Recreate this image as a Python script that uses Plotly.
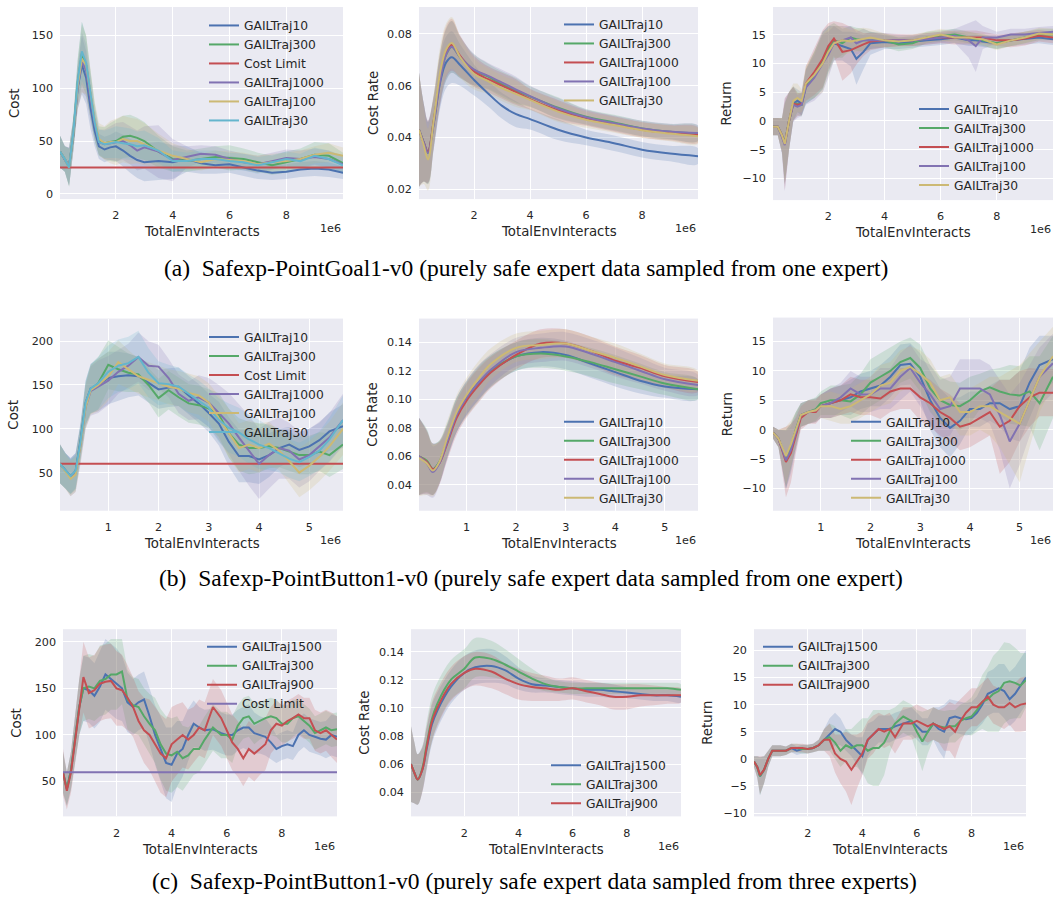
import plotly.graph_objects as go

W, H = 1057, 903

BLUE, GREEN, RED = "#4C72B0", "#55A868", "#C44E52"
PURPLE, YELLOW, CYAN = "#8172B2", "#CCB974", "#64B5CD"
TEXT = "#262626"

# ---------------- (a) Safexp-PointGoal1-v0 ----------------
a1_x = [0.03, 0.2, 0.35, 0.5, 0.65, 0.8, 0.95, 1.1, 1.25, 1.4, 1.6, 1.8, 2.0, 2.25, 2.5,
        2.75, 3.0, 3.5, 4.0, 4.5, 5.0, 5.5, 6.0, 6.5, 7.0, 7.5, 8.0, 8.5, 9.0, 9.5, 10.0]
a1_traj10 = [40, 33, 26, 55, 100, 122, 110, 82, 60, 45, 42, 44, 45, 41, 36,
             32, 30, 31, 30, 33, 29, 27, 28, 25, 22, 20, 21, 23, 24, 23, 20]
a1_traj300 = [40, 33, 25, 57, 105, 133, 122, 95, 68, 50, 48, 49, 50, 54, 55,
              53, 50, 40, 33, 31, 33, 35, 34, 33, 30, 27, 30, 33, 37, 36, 29]
a1_traj1000 = [40, 33, 26, 56, 100, 125, 117, 90, 66, 49, 47, 48, 49, 50, 46,
               41, 44, 40, 32, 35, 38, 37, 33, 30, 28, 31, 34, 33, 35, 33, 28]
a1_traj100 = [40, 33, 25, 56, 102, 128, 122, 95, 70, 52, 48, 49, 49, 52, 50,
              50, 47, 41, 36, 33, 30, 33, 32, 31, 28, 30, 31, 33, 37, 39, 36]
a1_traj30 = [40, 33, 25, 58, 106, 135, 124, 95, 68, 49, 47, 48, 49, 48, 47,
             45, 46, 41, 31, 31, 33, 33, 31, 30, 27, 30, 33, 31, 36, 33, 27]
a1_traj10_sd = [15, 12, 18, 15, 20, 28, 25, 20, 15, 12, 12, 12, 14, 15, 16,
                17, 18, 18, 16, 12, 10, 8, 8, 8, 8, 7, 7, 7, 7, 7, 6]
a1_traj300_sd = [15, 12, 18, 15, 22, 30, 28, 22, 18, 14, 15, 18, 20, 20, 20,
                 19, 18, 15, 12, 10, 10, 10, 12, 10, 9, 9, 10, 10, 12, 12, 10]
a1_traj1000_sd = [15, 12, 18, 15, 20, 28, 25, 20, 15, 12, 14, 16, 18, 18, 18,
                  19, 20, 25, 20, 10, 8, 8, 8, 8, 8, 8, 8, 8, 8, 8, 8]
a1_traj100_sd = [15, 12, 18, 15, 22, 32, 28, 22, 18, 15, 16, 20, 22, 22, 22,
                 21, 20, 16, 12, 10, 8, 8, 8, 8, 8, 8, 8, 8, 8, 9, 8]
a1_traj30_sd = [15, 12, 18, 15, 20, 28, 25, 20, 15, 12, 13, 14, 15, 15, 15,
                14, 14, 12, 10, 8, 8, 8, 8, 8, 8, 7, 7, 7, 8, 8, 8]
a1_cost_limit = 25

a2_x = [0.03, 0.2, 0.35, 0.55, 0.8, 1.0, 1.2, 1.5, 2.0, 2.5, 3.0, 3.5, 4.0, 5.0, 6.0, 7.0, 8.0, 9.0, 10.0]
a2_traj10 = [0.043, 0.038, 0.0345, 0.045, 0.062, 0.069, 0.071, 0.068, 0.0622, 0.057,
             0.0522, 0.049, 0.0471, 0.043, 0.040, 0.0378, 0.0353, 0.0338, 0.0328]
a2_traj300 = [0.043, 0.038, 0.034, 0.046, 0.064, 0.072, 0.075, 0.071, 0.066, 0.0635,
              0.0605, 0.058, 0.0558, 0.0515, 0.048, 0.0458, 0.0435, 0.0422, 0.0415]
a2_traj1000 = [0.043, 0.038, 0.0345, 0.046, 0.064, 0.073, 0.0758, 0.0715, 0.0655, 0.0625,
               0.060, 0.0575, 0.0548, 0.0505, 0.0475, 0.0452, 0.043, 0.0418, 0.041]
a2_traj100 = [0.043, 0.038, 0.034, 0.045, 0.063, 0.072, 0.075, 0.071, 0.0662, 0.0638,
              0.0612, 0.0585, 0.056, 0.0512, 0.0478, 0.0455, 0.0435, 0.0423, 0.0417]
a2_traj30 = [0.043, 0.037, 0.0315, 0.046, 0.066, 0.074, 0.0765, 0.071, 0.0645, 0.0618,
             0.059, 0.0568, 0.0545, 0.050, 0.0468, 0.0448, 0.0428, 0.0415, 0.0405]
a2_sd = [0.022, 0.015, 0.012, 0.010, 0.010, 0.010, 0.010, 0.008, 0.006, 0.005,
         0.005, 0.005, 0.004, 0.004, 0.003, 0.003, 0.003, 0.003, 0.003]

a3_x = [0.03, 0.2, 0.35, 0.45, 0.6, 0.75, 0.9, 1.05, 1.2, 1.5, 1.8, 2.0, 2.2, 2.5, 2.8, 3.0,
        3.25, 3.5, 4.0, 4.5, 5.0, 5.5, 6.0, 6.5, 7.0, 7.25, 7.5, 8.0, 8.5, 9.0, 9.5, 10.0]
a3_traj10 = [-1, -1, -2.5, -4, 0, 3, 3.5, 3, 6, 8, 10.5, 12.5, 13.5, 13, 12.5, 10.8,
             12, 13.5, 13.7, 13.5, 13.8, 14, 14.2, 14.5, 14, 14, 13.8, 13.5, 14, 14.3, 14.5, 14.2]
a3_traj300 = [-1, -1, -2.5, -3.8, 0, 3, 3, 2.8, 6, 8, 10.5, 12.5, 14, 13.5, 14.5, 14.2,
              14, 14, 14, 13.3, 13.5, 14.5, 14.8, 15, 14.5, 14.2, 14, 13.5, 14, 14.5, 15, 15]
a3_traj1000 = [-1, -1, -2.5, -4, 0, 3, 2.8, 3, 6.5, 8.5, 10.8, 13, 14.3, 12, 12.3, 12.8,
               13.3, 13.8, 14, 14, 14, 14.3, 14.5, 14.5, 14.5, 14.5, 14.5, 14, 14, 14.3, 14.8, 14.5]
a3_traj100 = [-1, -1, -2.8, -4.2, 0, 2.8, 2.5, 2.8, 5.8, 7.5, 10, 11.5, 13.5, 14, 14.5, 13.5,
              14, 14, 14, 14, 14, 14.2, 14.5, 14.8, 14, 13, 14.5, 14.5, 15, 15, 15.3, 15.5]
a3_traj30 = [-1, -1, -2.5, -4, 0, 3.5, 4, 3.5, 6.5, 8, 10, 12, 13.5, 14, 13.8, 14,
             14.2, 14.5, 14, 13.8, 14, 14.5, 15, 14.5, 14.5, 14.3, 14.2, 13.3, 14, 14.5, 15.2, 15]
a3_traj10_sd = [1.5, 1.5, 3, 7, 5, 3, 2, 2, 3, 4, 5, 4, 3, 2.5, 3, 4.5,
                3, 2, 1.2, 1, 1, 1, 1, 1, 1, 1, 1, 1, 1, 1, 1, 1]
a3_traj300_sd = [1.5, 1.5, 3, 7, 5, 3, 2, 2, 3, 4, 5, 4, 3, 2.5, 2, 2,
                 2, 1.5, 1.2, 1.2, 1, 1, 1, 1, 1, 1, 1, 1, 1, 1, 1, 1]
a3_traj1000_sd = [1.5, 1.5, 3, 8, 5, 3, 2, 2, 3, 4, 5, 4, 3, 5, 4, 3,
                  2, 1.5, 1.2, 1, 1, 1, 1, 1.2, 1.2, 1.2, 1, 1, 1.2, 1.2, 1, 1]
a3_traj100_sd = [1.5, 1.5, 3, 8, 5, 3, 2, 2, 3, 4, 5, 4, 3, 2.5, 2, 2,
                 2, 1.5, 1.2, 1, 1, 1, 1, 1.2, 3, 4.5, 2, 1, 1, 1, 1, 1]
a3_traj30_sd = [1.5, 1.5, 3, 7, 5, 3, 2.5, 2, 3, 4, 5, 4, 3, 2.5, 2, 2,
                2, 1.5, 1.2, 1, 1, 1, 1, 1, 1, 1, 1, 1, 1, 1, 1, 1]

# ---------------- (b) Safexp-PointButton1-v0, one expert ----------------
b1_x = [0.04, 0.15, 0.25, 0.35, 0.45, 0.55, 0.65, 0.8, 1.0, 1.2, 1.4, 1.6, 1.8, 2.0, 2.2, 2.4,
        2.6, 2.8, 3.0, 3.2, 3.4, 3.6, 3.8, 4.0, 4.2, 4.4, 4.6, 4.8, 5.0, 5.2, 5.4, 5.67]
b1_traj10 = [60, 52, 46, 52, 88, 130, 146, 150, 158, 160, 161, 160, 152, 145, 147, 148,
             138, 129, 118, 106, 85, 69, 69, 65, 70, 78, 82, 76, 80, 87, 97, 103]
b1_traj300 = [60, 52, 45, 50, 85, 128, 145, 152, 173, 168, 164, 162, 150, 135, 144, 136,
              129, 127, 123, 116, 95, 82, 78, 78, 80, 78, 74, 70, 70, 74, 70, 82]
b1_traj1000 = [60, 52, 45, 50, 82, 125, 143, 148, 155, 165, 172, 182, 172, 171, 158, 140,
               132, 136, 130, 118, 106, 90, 75, 60, 70, 78, 75, 65, 70, 80, 90, 110]
b1_traj100 = [60, 51, 43, 48, 82, 125, 144, 150, 160, 176, 168, 160, 156, 152, 148, 146,
              141, 138, 130, 112, 95, 78, 82, 78, 83, 75, 63, 50, 58, 68, 80, 100]
b1_traj30 = [60, 52, 46, 52, 86, 130, 146, 152, 165, 172, 175, 182, 164, 152, 151, 148,
             140, 133, 124, 110, 101, 96, 88, 82, 78, 72, 66, 62, 68, 75, 88, 110]
b1_traj10_sd = [22, 20, 20, 20, 20, 25, 28, 30, 30, 28, 25, 22, 22, 22, 22, 22,
                22, 22, 22, 25, 28, 30, 30, 28, 25, 22, 20, 20, 20, 20, 22, 25]
b1_traj300_sd = [22, 20, 20, 20, 20, 25, 28, 30, 28, 25, 22, 20, 20, 22, 22, 22,
                 22, 22, 22, 25, 28, 30, 30, 28, 25, 22, 22, 22, 22, 22, 25, 28]
b1_traj1000_sd = [22, 20, 22, 22, 22, 25, 28, 30, 28, 25, 25, 28, 28, 25, 22, 22,
                  22, 25, 28, 32, 35, 38, 40, 40, 38, 35, 32, 32, 30, 28, 28, 30]
b1_traj100_sd = [22, 20, 20, 20, 20, 25, 28, 30, 28, 25, 22, 20, 20, 20, 20, 20,
                 22, 22, 22, 25, 28, 28, 28, 28, 25, 22, 25, 28, 28, 28, 28, 30]
b1_traj30_sd = [22, 20, 20, 20, 20, 25, 28, 30, 30, 30, 30, 30, 28, 25, 22, 22,
                22, 22, 22, 25, 28, 28, 28, 28, 25, 22, 22, 22, 22, 22, 25, 28]
b1_cost_limit = 60

b2_x = [0.04, 0.2, 0.32, 0.45, 0.6, 0.8, 1.0, 1.25, 1.5, 2.0, 2.5, 3.0, 3.5, 4.0, 4.5, 5.0, 5.67]
b2_traj10 = [0.060, 0.056, 0.051, 0.056, 0.070, 0.089, 0.101, 0.112, 0.120, 0.130,
             0.133, 0.131, 0.125, 0.119, 0.113, 0.109, 0.107]
b2_traj300 = [0.060, 0.057, 0.051, 0.056, 0.070, 0.089, 0.100, 0.111, 0.120, 0.130,
              0.132, 0.130, 0.126, 0.121, 0.116, 0.111, 0.107]
b2_traj1000 = [0.060, 0.056, 0.051, 0.055, 0.068, 0.087, 0.099, 0.110, 0.119, 0.131,
               0.139, 0.139, 0.134, 0.127, 0.122, 0.116, 0.112]
b2_traj100 = [0.060, 0.055, 0.049, 0.055, 0.069, 0.089, 0.101, 0.112, 0.121, 0.133,
              0.136, 0.137, 0.132, 0.126, 0.120, 0.114, 0.110]
b2_traj30 = [0.059, 0.055, 0.050, 0.056, 0.072, 0.091, 0.103, 0.115, 0.125, 0.136,
             0.138, 0.139, 0.134, 0.129, 0.123, 0.117, 0.113]
b2_sd = [0.027, 0.022, 0.018, 0.015, 0.012, 0.012, 0.012, 0.012, 0.011, 0.010,
         0.010, 0.010, 0.010, 0.010, 0.009, 0.008, 0.007]

b3_x = [0.04, 0.15, 0.3, 0.4, 0.5, 0.6, 0.75, 0.9, 1.0, 1.2, 1.4, 1.6, 1.8, 2.0, 2.2, 2.4,
        2.6, 2.8, 3.0, 3.2, 3.4, 3.6, 3.8, 4.0, 4.2, 4.4, 4.6, 4.8, 5.0, 5.2, 5.4, 5.67]
b3_traj10 = [-0.5, -1.5, -5, -3, 0, 2.5, 3, 3.3, 4, 4.5, 5, 5.5, 6.5, 7, 7.5, 9,
             11, 11.2, 9, 5, 2, 0.3, 1.5, 3.5, 3.5, 4.5, 4.5, 3.5, 4, 8, 11, 12]
b3_traj300 = [-0.5, -1.5, -5, -3, 0, 2.5, 3, 3.5, 4.5, 5, 5, 4.8, 6, 8, 9, 10,
              11.5, 12.2, 10.5, 7, 5, 4.2, 4, 5, 6.5, 7.2, 6.5, 6, 5.8, 6.5, 4.5, 9]
b3_traj1000 = [-0.5, -1.5, -5.5, -4, -1, 2, 3, 3, 4, 4.5, 5, 6, 5.5, 5.5, 5.3, 6.5,
               7, 7, 5.5, 4.5, 3, 2, 0.5, 1, 2, 3, 0.5, 1.5, 4, 5.5, 6.3, 6.3]
b3_traj100 = [-0.5, -1.5, -5.2, -3.5, -0.5, 2.5, 3, 3.3, 4, 4.5, 5.5, 7, 6, 6, 7, 7,
              9, 10.5, 8, 6, 3.5, 4, 7, 7, 7, 6, 2.5, -2, 1, 5, 9, 11.3]
b3_traj30 = [-0.5, -1.5, -4.5, -2.5, 0, 2.5, 3, 3.3, 4, 4, 3.5, 4, 5, 6, 7.5, 8,
             10, 10.7, 9.5, 8, 5, 5.5, 3, 3, 4, 4, 3, 2, 1, 5, 9, 12.5]
b3_traj10_sd = [1, 1.5, 5, 4, 3, 2, 2, 2, 2, 2.5, 2.5, 3, 3, 3, 3.5, 3.5,
                3.5, 3.5, 4, 5, 5, 5, 4, 3, 3, 3, 4, 5, 6, 6, 5, 4]
b3_traj300_sd = [1, 1.5, 5, 4, 3, 2, 2, 2, 2, 2.5, 2.5, 3, 3.5, 4, 4, 4,
                 3.5, 3.5, 4, 4, 4, 4, 4, 4, 3, 3, 4, 5, 5, 6, 8, 7]
b3_traj1000_sd = [1, 1.5, 6, 5, 3, 2, 2, 2, 2, 2.5, 2.5, 3, 3, 3, 3.5, 3.5,
                  3.5, 3.5, 4, 4, 4, 4, 4, 4, 4, 4, 8, 7, 6, 5, 4, 4]
b3_traj100_sd = [1, 1.5, 5, 4, 3, 2, 2, 2, 2, 2.5, 2.5, 3, 3, 3, 3.5, 3.5,
                 4, 4, 4, 5, 5, 5, 5, 5, 5, 5, 6, 8, 7, 6, 5, 5]
b3_traj30_sd = [1, 1.5, 5, 4, 3, 2, 2, 2, 2, 2.5, 2.5, 3, 3, 3, 3.5, 3.5,
                3.5, 3.5, 4, 4, 4, 4, 4, 4, 4, 5, 6, 8, 10, 8, 6, 5]

# ---------------- (c) Safexp-PointButton1-v0, three experts ----------------
c1_x = [0.06, 0.2, 0.35, 0.5, 0.65, 0.8, 1.0, 1.2, 1.4, 1.6, 1.8, 2.0, 2.2, 2.4, 2.6, 2.8,
        3.0, 3.2, 3.4, 3.6, 3.8, 4.0, 4.2, 4.4, 4.6, 4.8, 5.0, 5.2, 5.5, 5.8, 6.0, 6.2, 6.4,
        6.6, 6.8, 7.0, 7.2, 7.4, 7.6, 7.8, 8.0, 8.2, 8.4, 8.6, 8.8, 9.0, 9.2, 9.4, 9.6, 9.8, 10.0]
c1_traj1500 = [60, 42, 62, 95, 130, 150, 148, 142, 152, 165, 160, 155, 150, 135, 130, 135,
               138, 120, 100, 85, 70, 68, 80, 85, 100, 112, 108, 105, 106, 102, 100, 100, 105,
               108, 108, 102, 100, 98, 92, 85, 88, 90, 88, 100, 105, 100, 98, 96, 95, 100, 98]
c1_traj300 = [60, 42, 62, 95, 130, 150, 152, 150, 158, 160, 165, 165, 168, 138, 132, 130,
              120, 112, 105, 90, 80, 78, 82, 75, 78, 85, 85, 95, 108, 100, 100, 95, 110,
              118, 120, 112, 115, 118, 120, 118, 112, 112, 118, 120, 115, 110, 102, 105, 108, 105, 106]
c1_traj900 = [60, 40, 60, 95, 132, 162, 145, 148, 155, 157, 158, 150, 148, 140, 130, 115,
              105, 100, 90, 80, 75, 90, 95, 100, 95, 100, 108, 105, 130, 118, 105, 92, 85,
              75, 85, 80, 85, 90, 105, 112, 110, 115, 118, 122, 118, 118, 105, 102, 105, 100, 95]
c1_traj1500_sd = [22, 18, 20, 25, 30, 35, 35, 35, 38, 38, 38, 38, 35, 32, 30, 30,
                  30, 30, 32, 35, 38, 40, 35, 30, 28, 25, 22, 22, 22, 22, 22, 22, 22,
                  22, 25, 22, 20, 20, 18, 15, 15, 15, 15, 18, 18, 18, 18, 18, 20, 22, 22]
c1_traj300_sd = [22, 18, 20, 25, 30, 35, 35, 35, 38, 38, 38, 38, 35, 32, 30, 30,
                 30, 32, 35, 38, 40, 40, 38, 35, 30, 28, 25, 25, 25, 25, 25, 25, 22,
                 22, 22, 22, 20, 20, 20, 20, 20, 20, 20, 18, 18, 18, 18, 18, 18, 18, 18]
c1_traj900_sd = [25, 20, 22, 28, 32, 38, 38, 38, 40, 40, 40, 40, 38, 35, 32, 32,
                 35, 38, 40, 42, 42, 40, 38, 35, 32, 30, 30, 30, 30, 30, 30, 30, 30,
                 30, 30, 30, 28, 28, 25, 25, 22, 22, 22, 22, 22, 22, 22, 22, 22, 24, 25]
c1_cost_limit = 60

c2_x = [0.03, 0.15, 0.28, 0.45, 0.6, 0.8, 1.0, 1.5, 2.0, 2.4, 3.0, 3.5, 4.0, 4.5, 5.0,
        5.5, 6.0, 6.5, 7.0, 7.5, 8.0, 8.5, 9.0, 9.5, 10.0]
c2_traj1500 = [0.060, 0.054, 0.049, 0.056, 0.070, 0.088, 0.098, 0.115, 0.125, 0.129,
               0.130, 0.127, 0.121, 0.117, 0.116, 0.115, 0.114, 0.113, 0.113, 0.112,
               0.111, 0.110, 0.109, 0.109, 0.108]
c2_traj300 = [0.060, 0.054, 0.049, 0.057, 0.073, 0.092, 0.103, 0.120, 0.128, 0.136,
              0.135, 0.131, 0.126, 0.121, 0.117, 0.115, 0.114, 0.114, 0.114, 0.114,
              0.114, 0.114, 0.114, 0.114, 0.113]
c2_traj900 = [0.060, 0.054, 0.049, 0.056, 0.071, 0.090, 0.100, 0.117, 0.125, 0.128,
              0.126, 0.121, 0.117, 0.115, 0.114, 0.113, 0.114, 0.112, 0.110, 0.108,
              0.108, 0.109, 0.109, 0.109, 0.109]
c2_traj1500_sd = [0.027, 0.022, 0.018, 0.016, 0.015, 0.014, 0.013, 0.012, 0.012, 0.012,
                  0.012, 0.010, 0.008, 0.006, 0.005, 0.005, 0.005, 0.005, 0.005, 0.005,
                  0.004, 0.004, 0.004, 0.004, 0.004]
c2_traj300_sd = [0.027, 0.022, 0.018, 0.016, 0.016, 0.016, 0.015, 0.014, 0.014, 0.014,
                 0.013, 0.011, 0.009, 0.007, 0.005, 0.004, 0.004, 0.004, 0.004, 0.004,
                 0.004, 0.004, 0.004, 0.004, 0.004]
c2_traj900_sd = [0.027, 0.022, 0.018, 0.016, 0.015, 0.014, 0.013, 0.012, 0.012, 0.012,
                 0.012, 0.011, 0.011, 0.010, 0.009, 0.008, 0.008, 0.008, 0.008, 0.009,
                 0.009, 0.008, 0.007, 0.006, 0.005]

c3_x = [0.03, 0.15, 0.25, 0.4, 0.55, 0.7, 1.0, 1.2, 1.4, 1.6, 1.8, 2.0, 2.2, 2.4, 2.6, 2.8,
        3.0, 3.2, 3.4, 3.6, 3.8, 4.0, 4.2, 4.4, 4.6, 4.8, 5.0, 5.2, 5.5, 5.8, 6.0, 6.2, 6.4,
        6.6, 6.8, 7.0, 7.2, 7.4, 7.6, 7.8, 8.0, 8.2, 8.4, 8.6, 8.8, 9.0, 9.2, 9.4, 9.6, 9.8, 10.0]
c3_traj1500 = [-0.5, -1.5, -3.2, -2, 0, 1.5, 1.5, 1.5, 2, 1.5, 1.8, 1.8, 2, 2.5, 3.5, 4.5,
               5.5, 5, 3.5, 2.5, 1.5, 0.5, 3.5, 4.5, 5.5, 5.5, 5.5, 6, 6.5, 7, 6, 5, 5,
               6.5, 5.5, 5, 7.5, 7.8, 7.5, 7.3, 7.5, 8.5, 10, 12, 12.5, 13, 12.5, 11, 12, 13.5, 15]
c3_traj300 = [-0.5, -1.5, -3.2, -2, 0, 1.5, 1.5, 1.5, 2, 2, 1.8, 1.8, 2, 2.5, 3.5, 4,
              3, 1.5, 2.5, 2, 2.5, 2.5, 1.5, 2, 2, 3, 5, 6.5, 7.8, 7, 5, 3.2, 5,
              6.5, 6, 5.8, 6, 6, 7, 7.5, 7.8, 9, 10.5, 11, 12, 12.5, 14, 14.3, 14, 13.5, 14.5]
c3_traj900 = [-0.5, -1.5, -3, -2, 0, 1.5, 1.5, 1.5, 2, 2, 2, 1.8, 2, 2.5, 3.5, 3.5,
              1, 0, -0.5, -2, -0.5, 1, 3.5, 4.5, 5.5, 5, 5.5, 4, 6.5, 6.5, 7, 6.5, 6,
              6.5, 6, 5.5, 6, 5, 7, 8.5, 9.5, 9.5, 10.5, 11.5, 10, 9.5, 9.5, 10.3, 9.5, 10, 10.2]
c3_traj1500_sd = [1, 2, 3.5, 2.5, 1.5, 1, 1, 0.8, 0.8, 0.8, 0.8, 0.8, 0.8, 1, 2, 3,
                  3, 2.5, 2, 2, 2.5, 3.5, 3, 2.5, 2.5, 2.5, 2.5, 2.5, 2.5, 2.5, 2.5, 2.5, 2.5,
                  3, 4, 5, 3.5, 3, 3, 3, 3, 3, 3.5, 4, 4, 4.5, 5, 5, 5, 5, 5]
c3_traj300_sd = [1, 2, 3.5, 2.5, 1.5, 1, 1, 0.8, 0.8, 0.8, 0.8, 0.8, 0.8, 1, 2, 2.5,
                 3, 3, 3, 3.5, 4, 5, 6, 7, 7, 6, 4, 3, 3, 3, 4, 5.5, 4,
                 3, 3, 3, 3, 3, 3, 3, 3.5, 4, 5, 6, 7, 7.5, 7.5, 7, 6.5, 6, 5]
c3_traj900_sd = [1, 2, 3.5, 2.5, 1.5, 1, 1, 0.8, 0.8, 0.8, 0.8, 0.8, 0.8, 1, 2, 3,
                 3.5, 4.5, 5.5, 6.5, 5, 4, 3.5, 3.5, 3, 3, 3, 3, 3, 3, 3, 3, 3,
                 3, 3, 4, 4.5, 5, 4, 3.5, 3.5, 3.5, 3.5, 3.5, 3.5, 3.5, 4, 4, 4.5, 5, 5]

# tick values
cost_ticks_a = [0, 50, 100, 150]
cost_ticks_bc = [50, 100, 150, 200]
rate_ticks_a = [0.02, 0.04, 0.06, 0.08]
rate_ticks_bc = [0.04, 0.06, 0.08, 0.10, 0.12, 0.14]
return_ticks_ab = [-10, -5, 0, 5, 10, 15]
return_ticks_c = [-10, -5, 0, 5, 10, 15, 20]
x_ticks_long = [2, 4, 6, 8]
x_ticks_short = [1, 2, 3, 4, 5]

captions = [
    "(a)\u00a0 Safexp-PointGoal1-v0 (purely safe expert data sampled from one expert)",
    "(b)\u00a0 Safexp-PointButton1-v0 (purely safe expert data sampled from one expert)",
    "(c)\u00a0 Safexp-PointButton1-v0 (purely safe expert data sampled from three experts)",
]


def rgba(hex_color, a):
    h = hex_color.lstrip("#")
    return f"rgba({int(h[0:2], 16)},{int(h[2:4], 16)},{int(h[4:6], 16)},{a})"


def limit_line(name, color, xr, value):
    return (name, color, [xr[0], xr[1]], [value, value], None)


panels = [
    dict(box=(60, 343, 7, 200), xr=[0.03, 10.0], yr=[-5, 177], xt=x_ticks_long, yt=cost_ticks_a,
         yfmt="", ylabel="Cost", leg=(204, 24), series=[
             ("GAILTraj10", BLUE, a1_x, a1_traj10, a1_traj10_sd),
             ("GAILTraj300", GREEN, a1_x, a1_traj300, a1_traj300_sd),
             limit_line("Cost Limit", RED, [0.03, 10.0], a1_cost_limit),
             ("GAILTraj1000", PURPLE, a1_x, a1_traj1000, a1_traj1000_sd),
             ("GAILTraj100", YELLOW, a1_x, a1_traj100, a1_traj100_sd),
             ("GAILTraj30", CYAN, a1_x, a1_traj30, a1_traj30_sd)]),
    dict(box=(419, 698, 7, 200), xr=[0.03, 10.0], yr=[0.0162, 0.0904], xt=x_ticks_long, yt=rate_ticks_a,
         yfmt=".2f", ylabel="Cost Rate", leg=(559, 23), smooth=True, series=[
             ("GAILTraj10", BLUE, a2_x, a2_traj10, a2_sd),
             ("GAILTraj300", GREEN, a2_x, a2_traj300, a2_sd),
             ("GAILTraj1000", RED, a2_x, a2_traj1000, a2_sd),
             ("GAILTraj100", PURPLE, a2_x, a2_traj100, a2_sd),
             ("GAILTraj30", YELLOW, a2_x, a2_traj30, a2_sd)]),
    dict(box=(773, 1053, 7, 201), xr=[0.03, 10.0], yr=[-13.75, 19.8], xt=x_ticks_long, yt=return_ticks_ab,
         yfmt="", ylabel="Return", leg=(914, 108), series=[
             ("GAILTraj10", BLUE, a3_x, a3_traj10, a3_traj10_sd),
             ("GAILTraj300", GREEN, a3_x, a3_traj300, a3_traj300_sd),
             ("GAILTraj1000", RED, a3_x, a3_traj1000, a3_traj1000_sd),
             ("GAILTraj100", PURPLE, a3_x, a3_traj100, a3_traj100_sd),
             ("GAILTraj30", YELLOW, a3_x, a3_traj30, a3_traj30_sd)]),
    dict(box=(60, 343, 320, 513), xr=[0.04, 5.67], yr=[6.5, 225.8], xt=x_ticks_short, yt=cost_ticks_bc,
         yfmt="", ylabel="Cost", leg=(204, 337), series=[
             ("GAILTraj10", BLUE, b1_x, b1_traj10, b1_traj10_sd),
             ("GAILTraj300", GREEN, b1_x, b1_traj300, b1_traj300_sd),
             limit_line("Cost Limit", RED, [0.04, 5.67], b1_cost_limit),
             ("GAILTraj1000", PURPLE, b1_x, b1_traj1000, b1_traj1000_sd),
             ("GAILTraj100", YELLOW, b1_x, b1_traj100, b1_traj100_sd),
             ("GAILTraj30", CYAN, b1_x, b1_traj30, b1_traj30_sd)]),
    dict(box=(419, 698, 320, 513), xr=[0.04, 5.67], yr=[0.0219, 0.1565], xt=x_ticks_short, yt=rate_ticks_bc,
         yfmt=".2f", ylabel="Cost Rate", leg=(559, 422), smooth=True, series=[
             ("GAILTraj10", BLUE, b2_x, b2_traj10, b2_sd),
             ("GAILTraj300", GREEN, b2_x, b2_traj300, b2_sd),
             ("GAILTraj1000", RED, b2_x, b2_traj1000, b2_sd),
             ("GAILTraj100", PURPLE, b2_x, b2_traj100, b2_sd),
             ("GAILTraj30", YELLOW, b2_x, b2_traj30, b2_sd)]),
    dict(box=(773, 1053, 319, 513), xr=[0.04, 5.67], yr=[-13.8, 19.07], xt=x_ticks_short, yt=return_ticks_ab,
         yfmt="", ylabel="Return", leg=(846, 422), series=[
             ("GAILTraj10", BLUE, b3_x, b3_traj10, b3_traj10_sd),
             ("GAILTraj300", GREEN, b3_x, b3_traj300, b3_traj300_sd),
             ("GAILTraj1000", RED, b3_x, b3_traj1000, b3_traj1000_sd),
             ("GAILTraj100", PURPLE, b3_x, b3_traj100, b3_traj100_sd),
             ("GAILTraj30", YELLOW, b3_x, b3_traj30, b3_traj30_sd)]),
    dict(box=(63, 337, 632, 820), xr=[0.06, 10.0], yr=[12.6, 213.5], xt=x_ticks_long, yt=cost_ticks_bc,
         yfmt="", ylabel="Cost", leg=(202, 648), series=[
             ("GAILTraj1500", BLUE, c1_x, c1_traj1500, c1_traj1500_sd),
             ("GAILTraj300", GREEN, c1_x, c1_traj300, c1_traj300_sd),
             ("GAILTraj900", RED, c1_x, c1_traj900, c1_traj900_sd),
             limit_line("Cost Limit", PURPLE, [0.06, 10.0], c1_cost_limit)]),
    dict(box=(411, 681, 632, 820), xr=[0.03, 10.0], yr=[0.0227, 0.1562], xt=x_ticks_long, yt=rate_ticks_bc,
         yfmt=".2f", ylabel="Cost Rate", leg=(546, 767), smooth=True, series=[
             ("GAILTraj1500", BLUE, c2_x, c2_traj1500, c2_traj1500_sd),
             ("GAILTraj300", GREEN, c2_x, c2_traj300, c2_traj300_sd),
             ("GAILTraj900", RED, c2_x, c2_traj900, c2_traj900_sd)]),
    dict(box=(754, 1026, 632, 820), xr=[0.03, 10.0], yr=[-10.6, 23.9], xt=x_ticks_long, yt=return_ticks_c,
         yfmt="", ylabel="Return", leg=(758, 648), series=[
             ("GAILTraj1500", BLUE, c3_x, c3_traj1500, c3_traj1500_sd),
             ("GAILTraj300", GREEN, c3_x, c3_traj300, c3_traj300_sd),
             ("GAILTraj900", RED, c3_x, c3_traj900, c3_traj900_sd)]),
]

fig = go.Figure()
annotations = []
LEG_OFFSET = 13  # first legend row centre below the legend's top edge

for i, p in enumerate(panels, start=1):
    sfx = "" if i == 1 else str(i)
    xa, ya, lg = "x" + sfx, "y" + sfx, "legend" + sfx
    l, r, t, b = p["box"]
    shape = "spline" if p.get("smooth") else "linear"

    # confidence bands underneath every line
    for name, color, xs, ys, sd in p["series"]:
        if sd is None:
            continue
        assert len(xs) == len(ys) == len(sd), name
        upper = [v + s for v, s in zip(ys, sd)]
        lower = [v - s for v, s in zip(ys, sd)]
        fig.add_trace(go.Scatter(
            x=list(xs) + list(xs)[::-1], y=upper + lower[::-1], xaxis=xa, yaxis=ya,
            fill="toself", fillcolor=rgba(color, 0.2), line=dict(width=0, shape=shape),
            mode="lines", hoverinfo="skip", showlegend=False))
    for name, color, xs, ys, sd in p["series"]:
        fig.add_trace(go.Scatter(
            x=xs, y=ys, xaxis=xa, yaxis=ya, name=name, legend=lg, mode="lines",
            line=dict(color=color, width=2, shape=shape)))

    fig.layout["xaxis" + sfx] = dict(
        domain=[l / W, r / W], anchor=ya, range=p["xr"], tickvals=p["xt"],
        showgrid=True, gridcolor="white", gridwidth=1.3, zeroline=False, showline=False,
        ticks="", ticklabelstandoff=8, tickfont=dict(size=11.2, color=TEXT))
    fig.layout["yaxis" + sfx] = dict(
        domain=[1 - b / H, 1 - t / H], anchor=xa, range=p["yr"], tickvals=p["yt"],
        tickformat=p["yfmt"], showgrid=True, gridcolor="white", gridwidth=1.3,
        zeroline=False, showline=False, ticks="", ticklabelstandoff=6,
        tickfont=dict(size=11.2, color=TEXT))
    lx, ly = p["leg"]
    fig.layout[lg] = dict(
        x=lx / W, y=1 - (ly - LEG_OFFSET) / H, xanchor="left", yanchor="top",
        bgcolor="rgba(0,0,0,0)", borderwidth=0, font=dict(size=12.3, color=TEXT),
        tracegroupgap=0)

    annotations.append(dict(
        text="TotalEnvInteracts", xref="paper", yref="paper", x=(l + r) / 2 / W,
        y=1 - (b + 33) / H, xanchor="center", yanchor="middle", showarrow=False,
        font=dict(size=13.3, color=TEXT)))
    annotations.append(dict(
        text="1e6", xref="paper", yref="paper", x=r / W, y=1 - (b + 30) / H,
        xanchor="right", yanchor="middle", showarrow=False, font=dict(size=11.2, color=TEXT)))
    annotations.append(dict(
        text=p["ylabel"], xref="paper", yref="paper", x=(l - 46) / W, y=1 - (t + b) / 2 / H,
        xanchor="center", yanchor="middle", textangle=-90, showarrow=False,
        font=dict(size=13.3, color=TEXT)))

for cap, cx, cy in zip(captions, [526, 531, 534], [269, 581, 885]):
    annotations.append(dict(
        text=cap, xref="paper", yref="paper", x=cx / W, y=1 - cy / H, xanchor="center",
        yanchor="middle", showarrow=False,
        font=dict(family="Liberation Serif, Times New Roman, serif", size=23.5, color="black")))

fig.update_layout(
    width=W, height=H, margin=dict(l=0, r=0, t=0, b=0, pad=0),
    paper_bgcolor="white", plot_bgcolor="#EAEAF2",
    font=dict(family="DejaVu Sans, sans-serif", color=TEXT),
    annotations=annotations, hovermode=False)

fig.write_html("out.html")
